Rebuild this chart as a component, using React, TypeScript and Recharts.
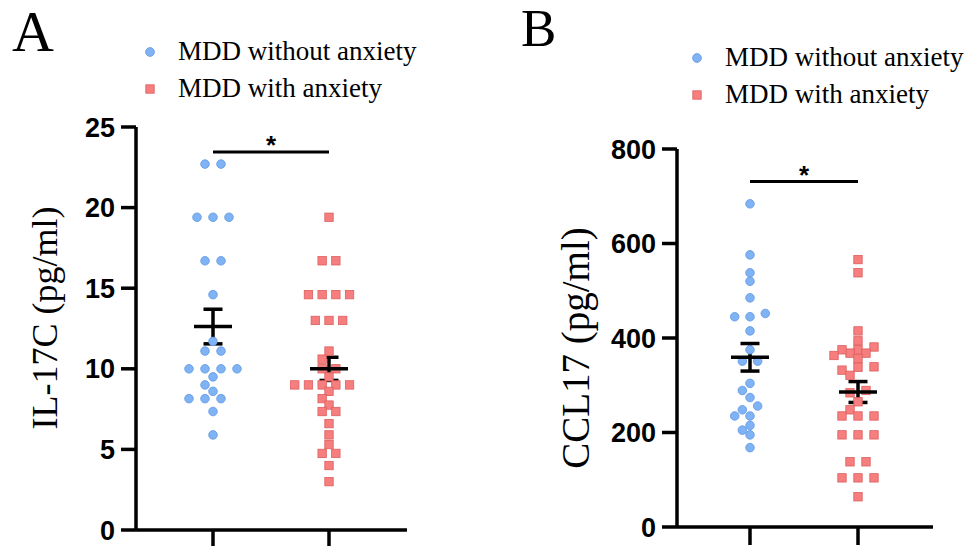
import React from "react";
import { ScatterChart, Scatter, XAxis, YAxis, ErrorBar, ReferenceLine, Legend } from "recharts";

const groups = ["MDD without anxiety", "MDD with anxiety"];

// panel A, IL-17C (pg/ml)
const il17cWithout = [22.7, 22.7, 19.4, 19.4, 19.4, 16.7, 16.7, 14.6, 11.7, 11.1, 11.1, 10.0, 10.0, 10.0, 10.0, 9.5, 9.0, 8.6, 8.15, 8.15, 8.15, 7.35, 5.9];
const il17cWith = [19.4, 16.7, 16.7, 14.6, 14.6, 14.6, 14.6, 13.0, 13.0, 13.0, 11.1, 10.6, 10.0, 10.0, 9.5, 9.0, 9.0, 9.0, 9.0, 9.0, 8.6, 8.15, 7.75, 7.35, 7.35, 6.6, 5.9, 5.3, 4.75, 4.75, 4.0, 3.0];
const il17cTicks = [0, 5, 10, 15, 20, 25];
const il17cSig = 23.45;

// panel B, CCL17 (pg/ml)
const ccl17Without = [684, 576, 538, 520, 485, 452, 445, 445, 415, 375, 351, 351, 304, 289, 274, 256, 248, 235, 235, 215, 205, 195, 168];
const ccl17With = [566, 538, 415, 394, 381, 375, 368, 368, 375, 363, 356, 339, 338, 332, 321, 289, 284, 265, 248, 235, 235, 235, 195, 195, 195, 138, 138, 104, 104, 104, 64];
const ccl17Ticks = [0, 200, 400, 600, 800];
const ccl17Sig = 731;

const serif = "'Liberation Serif', 'Times New Roman', serif";
const sans = "'Liberation Sans', Arial, sans-serif";
const blue = { fill: "#80B3F4", stroke: "#5E97E4" };
const red = { fill: "#F77E7E", stroke: "#DC5F5F" };

function stats(vs: number[]) {
  const n = vs.length;
  const mean = vs.reduce((s, v) => s + v, 0) / n;
  const sd = Math.sqrt(vs.reduce((s, v) => s + (v - mean) ** 2, 0) / (n - 1));
  return { mean, sem: sd / Math.sqrt(n) };
}

// simple beeswarm: near-equal values share a row, rows slide sideways until they don't overlap
function swarm(values: number[], pxPerY: number, spacing: number) {
  const minDist = 8.4;
  const rowTol = 4;
  const sorted = values.map((v, i) => ({ v, i })).sort((a, b) => b.v - a.v);
  const rows: { v: number; i: number }[][] = [];
  for (const p of sorted) {
    const last = rows[rows.length - 1];
    if (last && (last[0].v - p.v) * pxPerY < rowTol) last.push(p);
    else rows.push([p]);
  }
  const placed: { dx: number; y: number }[] = [];
  const out = new Array(values.length).fill(0);
  for (const row of rows) {
    const r = [...row].reverse();
    const n = r.length;
    const base = r.map((_, k) => (k - (n - 1) / 2) * spacing);
    for (let step = 0; step < 30; step++) {
      const k = step === 0 ? 0 : (step % 2 ? -1 : 1) * Math.ceil(step / 2);
      const shift = (k * spacing) / 2;
      const ok = r.every((p, j) =>
        placed.every((q) => Math.hypot(base[j] + shift - q.dx, p.v * pxPerY - q.y) >= minDist)
      );
      if (ok || step === 29) {
        r.forEach((p, j) => {
          out[p.i] = base[j] + shift;
          placed.push({ dx: base[j] + shift, y: p.v * pxPerY });
        });
        break;
      }
    }
  }
  return out;
}

const Dot = (p: any) => (
  <circle cx={p.cx} cy={p.cy} r={4.3} fill={blue.fill} stroke={blue.stroke} strokeWidth={0.8} />
);
const Sq = (p: any) => (
  <rect x={p.cx - 4.2} y={p.cy - 4.2} width={8.4} height={8.4} fill={red.fill} stroke={red.stroke} strokeWidth={0.8} />
);
const MeanLine = (p: any) => (
  <line x1={p.cx - 19} x2={p.cx + 19} y1={p.cy} y2={p.cy} stroke="#000" strokeWidth={3.5} />
);

const renderLegend = () => (
  <div style={{ fontFamily: serif, fontSize: 27, lineHeight: "37px", color: "#000" }}>
    {groups.map((g, i) => (
      <div key={g} style={{ display: "flex", alignItems: "center", whiteSpace: "nowrap" }}>
        <svg width={10} height={10} style={{ marginRight: 23, flex: "none" }}>
          {i === 0 ? (
            <circle cx={5} cy={5} r={4.4} fill={blue.fill} stroke={blue.stroke} strokeWidth={0.8} />
          ) : (
            <rect x={0.8} y={0.8} width={8.4} height={8.4} fill={red.fill} stroke={red.stroke} strokeWidth={0.8} />
          )}
        </svg>
        <span>{g}</span>
      </div>
    ))}
  </div>
);

interface PanelProps {
  left: number;
  letter: string;
  letterSize: number;
  letterPos: [number, number];
  yLabel: string;
  labelPos: [number, number];
  labelSize: number;
  series: number[][];
  ticks: number[];
  sigY: number;
  plot: { left: number; right: number; top: number; bottom: number };
  centers: [number, number];
  spacing: [number, number];
  legendPos: [number, number];
}

function Panel(props: PanelProps) {
  const W = 484;
  const H = 546;
  const { plot, centers, ticks } = props;
  const yMax = ticks[ticks.length - 1];
  const pxPerY = (plot.bottom - plot.top) / yMax;
  const pxPerX = centers[1] - centers[0];
  const xDomain = [1 - (centers[0] - plot.left) / pxPerX, 2 + (plot.right - centers[1]) / pxPerX];
  const pts = props.series.map((vs, g) => {
    const off = swarm(vs, pxPerY, props.spacing[g]);
    return vs.map((v, i) => ({ x: g + 1 + off[i] / pxPerX, y: v }));
  });
  const means = props.series.map((vs, g) => {
    const s = stats(vs);
    return { x: g + 1, y: s.mean, sem: s.sem };
  });
  const yAxisW = 100;
  const axisStroke = { stroke: "#000", strokeWidth: 3.5 };

  return (
    <div style={{ position: "absolute", left: props.left, top: 0, width: W, height: H }}>
      <div
        style={{
          position: "absolute",
          left: props.letterPos[0],
          top: props.letterPos[1],
          fontFamily: serif,
          fontSize: props.letterSize,
          lineHeight: `${props.letterSize}px`,
          color: "#000",
        }}
      >
        {props.letter}
      </div>
      <ScatterChart
        width={W}
        height={H}
        margin={{ top: plot.top, right: W - plot.right, bottom: 0, left: plot.left - yAxisW }}
      >
        <XAxis
          dataKey="x"
          type="number"
          domain={xDomain}
          allowDataOverflow
          ticks={[1, 2]}
          tick={() => <g />}
          tickSize={18}
          tickLine={axisStroke}
          axisLine={axisStroke}
          height={H - plot.bottom}
        />
        <YAxis
          dataKey="y"
          type="number"
          domain={[0, yMax]}
          ticks={ticks}
          interval={0}
          width={yAxisW}
          tickSize={15}
          tickMargin={6}
          tickLine={axisStroke}
          axisLine={axisStroke}
          tick={{ fill: "#000", fontSize: 27, fontWeight: "bold", fontFamily: sans }}
          label={{
            content: () => {
              const [cx, cy] = props.labelPos;
              return (
                <text
                  x={cx}
                  y={cy}
                  transform={`rotate(-90 ${cx} ${cy})`}
                  textAnchor="middle"
                  dominantBaseline="central"
                  fontFamily={serif}
                  fontSize={props.labelSize}
                  fill="#000"
                >
                  {props.yLabel}
                </text>
              );
            },
          }}
        />
        <Legend
          content={renderLegend}
          layout="vertical"
          align="center"
          verticalAlign="middle"
          wrapperStyle={{ left: props.legendPos[0], top: props.legendPos[1], width: 340, height: 80 }}
        />
        <ReferenceLine
          segment={[
            { x: 1, y: props.sigY },
            { x: 2, y: props.sigY },
          ]}
          stroke="#000"
          strokeWidth={3}
          label={{
            content: (lp: any) => {
              const vb = lp.viewBox || {};
              return (
                <text
                  x={vb.x + (vb.width || 0) / 2}
                  y={vb.y + 2}
                  textAnchor="middle"
                  fontFamily={sans}
                  fontWeight="bold"
                  fontSize={26}
                  fill="#000"
                >
                  *
                </text>
              );
            },
          }}
        />
        <Scatter name={groups[0]} data={pts[0]} shape={Dot} isAnimationActive={false} />
        <Scatter name={groups[1]} data={pts[1]} shape={Sq} isAnimationActive={false} />
        <Scatter name="mean" data={means} shape={MeanLine} isAnimationActive={false}>
          <ErrorBar dataKey="sem" direction="y" width={9.5} stroke="#000" strokeWidth={3.5} />
        </Scatter>
      </ScatterChart>
    </div>
  );
}

export default function App() {
  return (
    <div
      style={{
        position: "absolute",
        left: 0,
        top: 0,
        width: 968,
        height: 546,
        overflow: "hidden",
        background: "#fff",
      }}
    >
      <Panel
        left={0}
        letter="A"
        letterSize={58}
        letterPos={[12, 3]}
        yLabel="IL-17C (pg/ml)"
        labelPos={[45, 318]}
        labelSize={36}
        series={[il17cWithout, il17cWith]}
        ticks={il17cTicks}
        sigY={il17cSig}
        plot={{ left: 136, right: 407, top: 127, bottom: 530 }}
        centers={[213, 329]}
        spacing={[16, 13.7]}
        legendPos={[145, 33]}
      />
      <Panel
        left={484}
        letter="B"
        letterSize={53}
        letterPos={[37, 2]}
        yLabel="CCL17 (pg/ml)"
        labelPos={[91, 348]}
        labelSize={39}
        series={[ccl17Without, ccl17With]}
        ticks={ccl17Ticks}
        sigY={ccl17Sig}
        plot={{ left: 193, right: 449, top: 149, bottom: 527 }}
        centers={[266, 374]}
        spacing={[15.3, 16]}
        legendPos={[208, 39]}
      />
    </div>
  );
}
